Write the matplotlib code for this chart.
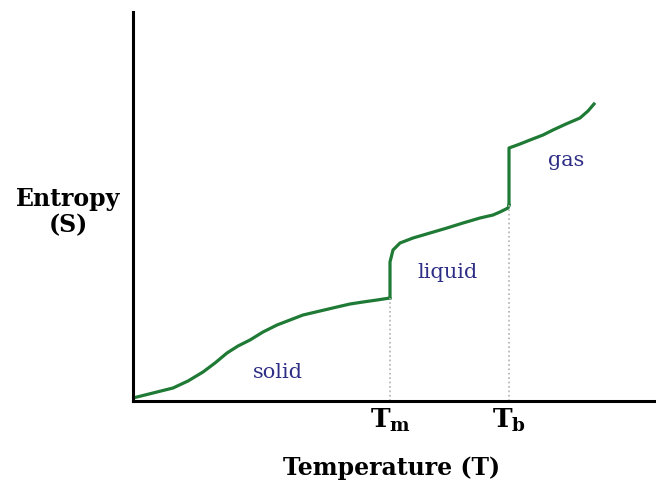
import matplotlib.pyplot as plt

# temperature / entropy (arbitrary units)
solid_T = [0, 20, 40, 55, 70, 82, 94, 105, 117, 130, 144, 157, 170, 187, 204, 217, 230, 244, 257]
solid_S = [3, 8, 13, 20, 29, 38, 48, 55, 61, 69, 76, 81, 86, 90, 94, 97, 99, 101, 103]

liquid_T = [257, 257, 260, 267, 280, 297, 314, 330, 347, 360, 367, 375, 376]
liquid_S = [103, 139, 151, 158, 163, 168, 173, 178, 183, 186, 189, 193, 196]

gas_T = [376, 376, 387, 397, 410, 420, 433, 447, 455, 461]
gas_S = [196, 253, 257, 261, 266, 271, 277, 283, 290, 297]

T_m = 257
T_b = 376
line_green = "#1f7a35"
text_blue = "#2e2e86"

plt.rcParams["mathtext.fontset"] = "dejavuserif"

fig = plt.figure(figsize=(6.56, 4.88), dpi=100)
ax = fig.add_axes([133 / 656, 87 / 488, 523 / 656, 389 / 488])

ax.plot(solid_T, solid_S, color=line_green, lw=2.3, solid_capstyle="round")
ax.plot(liquid_T, liquid_S, color=line_green, lw=2.3, solid_joinstyle="round")
ax.plot(gas_T, gas_S, color=line_green, lw=2.3, solid_joinstyle="round")

ax.vlines([T_m, T_b], 0, [solid_S[-1], liquid_S[-1]], colors="#b0b0b0", linestyles=":", lw=1.2)

ax.set_xlim(0, 523)
ax.set_ylim(0, 389)
ax.set_xticks([])
ax.set_yticks([])
for side in ["top", "right"]:
    ax.spines[side].set_visible(False)
for side in ["left", "bottom"]:
    ax.spines[side].set_linewidth(2.2)

ax.text(145, 29, "solid", color=text_blue, fontsize=15, family="DejaVu Serif", ha="center", va="center")
ax.text(315, 129, "liquid", color=text_blue, fontsize=15, family="DejaVu Serif", ha="center", va="center")
ax.text(433, 241, "gas", color=text_blue, fontsize=15, family="DejaVu Serif", ha="center", va="center")

ax.text(T_m, -6, r"T$_\mathbf{m}$", fontsize=19, fontweight="bold", family="DejaVu Serif",
        ha="center", va="top")
ax.text(T_b, -6, r"T$_\mathbf{b}$", fontsize=19, fontweight="bold", family="DejaVu Serif",
        ha="center", va="top")

fig.text(392 / 656, 1 - 468 / 488, "Temperature (T)", fontsize=17, fontweight="bold",
         family="DejaVu Serif", ha="center", va="center")
fig.text(68 / 656, 1 - 212 / 488, "Entropy\n(S)", fontsize=17, fontweight="bold",
         family="DejaVu Serif", ha="center", va="center", linespacing=1.15)

fig.savefig("out.png", dpi=100)
